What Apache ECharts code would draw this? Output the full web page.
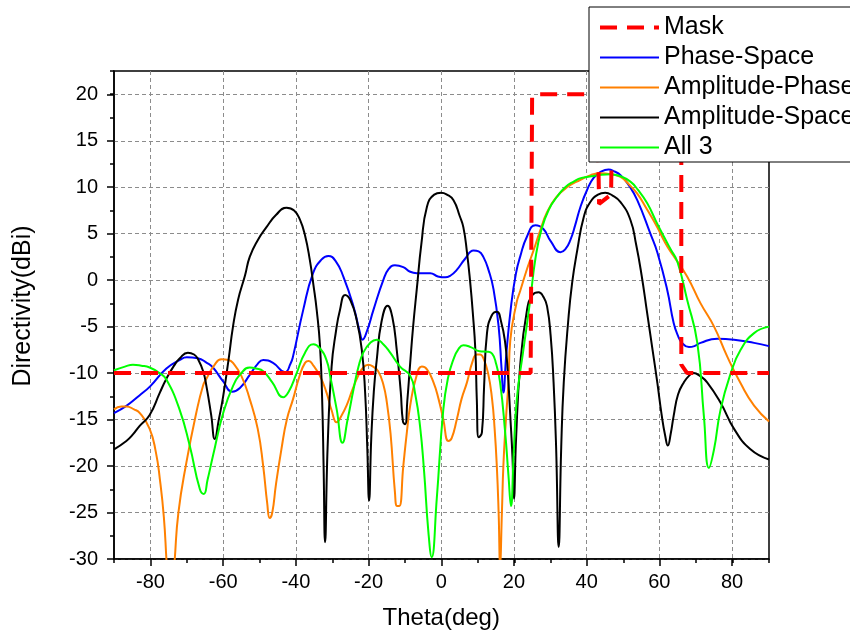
<!DOCTYPE html>
<html>
<head>
    <meta charset="utf-8" />
    <title>Directivity</title>
    <script src="https://cdn.jsdelivr.net/npm/echarts@6/dist/echarts.min.js"></script>
    <style>
        html, body { margin: 0; padding: 0; background: #fff; }
        #main { width: 850px; height: 639px; }
    </style>
</head>
<body>
    <div id="main"></div>
    <script type="text/javascript">
        // [theta(deg), directivity(dBi)]
        var maskData = [
            [-90, -10], [24.5, -10], [24.9, 19.8], [26.5, 20], [42.8, 20], [43.3, 8.2], [46.6, 9.2],
            [47, 20], [65.9, 20], [65.9, -9.1], [67.5, -10], [90, -10]
        ];
        var phaseSpace = [
            [-90, -14.3], [-86.5, -13.5], [-83, -12.4], [-80, -11.4], [-75.6, -9.5], [-72, -8.6], [-70, -8.3],
            [-67, -8.4], [-64.5, -8.9], [-62.8, -9.4], [-60, -10.9], [-57.5, -12.0], [-55.4, -11.6],
            [-52.7, -10.2], [-50.5, -9.0], [-49, -8.6], [-46.3, -8.9], [-43, -9.9], [-41.5, -9.0],
            [-40.8, -8.2], [-38, -3.2], [-35.3, 0.75], [-33, 2.2], [-31.1, 2.6], [-29, 2.0], [-27, 0.4],
            [-24.2, -2.8], [-22.5, -5.5], [-21.7, -6.4], [-20.5, -5.5], [-18.7, -3.2], [-16, 0],
            [-14.5, 1.2], [-12.8, 1.6], [-10.5, 1.4], [-8.6, 0.9], [-6.8, 0.75], [-3.1, 0.75], [-1, 0.4],
            [1, 0.3], [2.5, 0.5], [4.2, 1.1], [6.5, 2.3], [8.8, 3.2], [10.2, 3.1], [11.5, 2.5], [13, 1.0],
            [14.3, -1.0], [15.7, -5.0], [16.5, -9.5], [17, -12.1], [17.8, -8], [19.2, -2.5], [20.5, 0.8],
            [21.6, 2.5], [23.5, 4.7], [25.8, 5.9], [28, 5.5], [30, 4.2], [32.7, 3.0], [34, 3.3], [35.4, 4.3],
            [36.8, 6.0], [38.2, 7.9], [40, 9.7], [41.8, 11.0], [44, 11.7], [45.9, 11.9], [47.5, 11.7],
            [49.2, 11.3], [51.5, 10.2], [53.8, 8.6], [57.4, 5.0], [59.3, 3.0], [62, -1.0], [63.8, -4.6],
            [65, -6.0], [66.1, -6.75], [68, -7.2], [69.5, -7.1], [71.2, -6.75], [75.8, -6.3], [80.4, -6.4],
            [85.9, -6.75], [90, -7.1]
        ];
        var ampPhase = [
            [-90, -13.9], [-88, -13.6], [-86.6, -13.6], [-84.5, -13.9], [-82.9, -14.3], [-80.2, -16],
            [-78.5, -18.5], [-77.4, -21.4], [-76.3, -25.5], [-75.6, -30], [-75, -34], [-74, -34],
            [-73.3, -30], [-72.3, -25], [-70.1, -19.6], [-67.4, -14.3], [-65.5, -11.3], [-64.6, -10.6],
            [-62.5, -9.2], [-60.5, -8.5], [-58.5, -8.6], [-57.3, -8.9], [-55, -10.3], [-52.7, -12.8],
            [-50.5, -16], [-49, -20], [-47.9, -24], [-47.2, -25.6], [-46.5, -25], [-45.5, -22], [-44, -18.2],
            [-42.5, -15], [-40.8, -12.8], [-39, -10.3], [-37.5, -8.9], [-36.5, -8.7], [-35.2, -9.2],
            [-33.4, -10.3], [-31.6, -12.1], [-30.2, -14], [-28.8, -15.3], [-27.5, -14.6], [-26.1, -13.5],
            [-24.5, -11.8], [-22.9, -10.3], [-21.5, -9.4], [-20.1, -9.1], [-18.8, -9.3], [-17.4, -9.8],
            [-16, -11.2], [-15, -13.2], [-14, -16.5], [-12.8, -22.8], [-12.2, -24.3], [-11.6, -24.3],
            [-10.5, -20], [-9.5, -16.3], [-8.6, -13.5], [-7, -10.5], [-5.4, -9.3], [-4, -9.6], [-2.2, -11],
            [-0.8, -12.8], [0.5, -15], [1.9, -17.3], [2.8, -17], [4.2, -15], [5.5, -12.8], [7, -11],
            [8.5, -8.8], [9.7, -8.0], [10.6, -8.0], [11.5, -8.4], [12.8, -10], [13.9, -12.8], [14.6, -16],
            [15.2, -20], [15.7, -25], [16.1, -30.5], [16.6, -25], [17, -20], [17.7, -15], [18.4, -11],
            [18.9, -6.5], [20.7, -2.3], [21.6, -1.2], [23.5, 1.2], [25.3, 3.2], [27, 5.2], [29, 7.3],
            [31.5, 8.9], [34.5, 10.0], [38.2, 10.8], [41, 11.3], [43.7, 11.5], [46.5, 11.4], [49.2, 11.1],
            [51.5, 10.3], [53.8, 9.3], [56.5, 7.6], [59.3, 5.7], [61.5, 4.0], [63.6, 2.7], [67.5, 0.4],
            [71.2, -2.5], [74.9, -5], [78.5, -8.2], [82.2, -11.1], [85.9, -13.5], [90, -15.2]
        ];
        var ampSpace = [
            [-90, -18.2], [-86.6, -17.3], [-84.8, -16.6], [-83, -15.7], [-80.2, -14.5], [-77.4, -12.1],
            [-75.6, -10.6], [-73.5, -9.2], [-71.9, -8.4], [-69.7, -7.8], [-68, -8.0], [-66.9, -8.5],
            [-65.5, -9.8], [-64.6, -11.4], [-63.3, -14.5], [-62.3, -17.1], [-61.2, -15], [-60, -12.5],
            [-58.5, -8.5], [-57.3, -5], [-55.9, -2.1], [-54, 0.5], [-52.7, 2.5], [-50.5, 4.3], [-48.1, 5.7],
            [-45.5, 7.0], [-42.6, 7.8], [-40.5, 7.5], [-38.9, 6.5], [-37.5, 4.8], [-36.2, 2.2],
            [-35.2, -0.5], [-34.3, -3.2], [-33.4, -7], [-32.8, -12.8], [-32.4, -20], [-32, -28.2],
            [-31.3, -18], [-30.2, -9.3], [-29, -5.5], [-27.9, -3.2], [-26.5, -1.6], [-25, -2.2],
            [-23.3, -4.3], [-21.9, -7.5], [-21, -12], [-20.4, -18], [-19.9, -23.7], [-19.3, -17],
            [-18.6, -12], [-17.8, -8.6], [-16.5, -4.5], [-14.8, -2.75], [-13.5, -4], [-12.3, -7.5],
            [-11.2, -12], [-10.6, -15.2], [-10, -15.5], [-9.4, -13], [-8.6, -8.9], [-7.8, -5], [-6.8, -1],
            [-5.5, 4], [-4, 7.9], [-2, 9.2], [-0.1, 9.4], [1.5, 9.2], [3.3, 8.6], [5, 6.9], [6, 5.7],
            [7, 3], [7.9, -0.3], [8.6, -3.5], [9.3, -7.5], [9.7, -12.8], [10.2, -16.9], [11.1, -16.4],
            [11.7, -11.5], [12.5, -5.7], [13.8, -3.8], [15.2, -3.4], [16.4, -4.5], [17.5, -6.75],
            [18.2, -9.8], [18.9, -14.6], [19.5, -19], [19.9, -23.5], [20.5, -17], [21.6, -9.3],
            [23.5, -3.2], [25, -1.6], [26.7, -1.3], [28, -1.8], [29, -2.8], [30, -6], [30.8, -11],
            [31.5, -18], [32.2, -28.7], [32.9, -18], [33.6, -11], [34.8, -4.5], [35.9, -0.3], [37.3, 3.2],
            [39.1, 6.8], [40.9, 8.4], [43, 9.2], [45, 9.4], [47, 9.1], [49.2, 8.4], [51.9, 6.5],
            [53.5, 3.8], [55, 0.5], [56.5, -3.5], [58, -7.5], [59.3, -11], [60.5, -14.5], [61.5, -16.8],
            [62.2, -17.8], [63, -16.5], [63.8, -14.6], [65, -12.3], [66.6, -11], [68, -10.3], [69.3, -10.0],
            [71, -10.3], [73, -11], [76.7, -13.2], [80.4, -16], [84.9, -18.2], [90, -19.3]
        ];
        var all3 = [
            [-90, -9.7], [-87, -9.3], [-84.8, -9.1], [-82.5, -9.2], [-80.2, -9.4], [-77.5, -10],
            [-75.6, -10.7], [-72, -13.9], [-69.2, -17.8], [-66.4, -22.5], [-65.3, -23], [-64.3, -21.5],
            [-62.8, -18.9], [-60, -14.3], [-57.3, -11.4], [-55, -10], [-52.7, -9.4], [-51, -9.5],
            [-49, -9.8], [-46.5, -11], [-43.5, -12.6], [-42, -12], [-39.8, -10], [-37.5, -7.8],
            [-35.2, -6.9], [-33.5, -7.3], [-31.6, -8.6], [-30.5, -10.5], [-28.8, -13.9], [-27.2, -17.5],
            [-25.8, -15], [-24.2, -11.8], [-22.8, -9.3], [-21.5, -7.8], [-19.5, -6.7], [-17.8, -6.4],
            [-16, -6.9], [-14.1, -7.8], [-11.4, -9.3], [-8.6, -10.3], [-7.2, -12.3], [-5.9, -15.7],
            [-4.8, -20.5], [-3.6, -27.1], [-2.7, -29.8], [-1.3, -23.5], [0.5, -13.9], [1.8, -10.5],
            [3.3, -8.5], [4.7, -7.4], [6, -7], [8, -7.2], [10.5, -7.65], [12.5, -7.7], [13.9, -7.9],
            [15, -9], [16.1, -11], [17.5, -16.4], [18.4, -21], [19.1, -24.3], [19.8, -19], [20.7, -12.8],
            [22.5, -7.5], [24.4, -2.1], [25.8, 2.3], [27.5, 5.5], [29.5, 7.6], [31.8, 9.0], [34, 10.0],
            [36.3, 10.6], [38.5, 11.0], [41.8, 11.2], [44, 11.35], [46.4, 11.4], [49, 11.2], [51.9, 10.6],
            [54, 9.7], [56.5, 8.3], [59, 6.3], [61.1, 4.7], [63, 3.3], [64.8, 2.0], [67.5, -2.1],
            [70.3, -6.75], [72.1, -14.6], [73.5, -20.2], [74.9, -18.2], [76.7, -13.9], [79.5, -10],
            [82.2, -7.5], [85.9, -5.7], [90, -5.0]
        ];
        var seriesNames = ['Mask', 'Phase-Space', 'Amplitude-Phase', 'Amplitude-Space', 'All 3'];
        var seriesColors = ['#ff0000', '#0000ff', '#ff8000', '#000000', '#00ff00'];
        var xMajorTicks = [-80, 80, 20];
        var yMajorTicks = [-30, 20, 5];

        var font = '"Liberation Sans", Arial, Helvetica, sans-serif';
        var gridDash = { color: '#8c8c8c', width: 1, type: [4, 3] };
        var maskDash = [17, 10];

        function line(name, data, idx, extra) {
            var s = {
                name: name, type: 'line', xAxisIndex: 0, yAxisIndex: 0,
                data: data, symbol: 'none', showSymbol: false, smooth: 0.5,
                lineStyle: { color: seriesColors[idx], width: 2 },
                itemStyle: { color: seriesColors[idx] },
                z: 2
            };
            for (var k in extra) s[k] = extra[k];
            return s;
        }

        var legendData = seriesNames.map(function (n, i) {
            if (i === 0) return { name: n, lineStyle: { width: 4, type: maskDash } };
            return { name: n };
        });

        var myChart = echarts.init(document.getElementById('main'));
        var option = {
            animation: false,
            backgroundColor: '#fff',
            textStyle: { fontFamily: font, color: '#000' },
            grid: [
                { left: 114, right: 81, top: 71, bottom: 80, show: true, borderColor: '#000', borderWidth: 1.5, backgroundColor: 'transparent' },
                { left: 150.5, right: 118, top: 71, bottom: 80 },
                { left: 114, right: 81, top: 94.3, bottom: 80 }
            ],
            xAxis: [
                {
                    gridIndex: 0, type: 'value', min: -90, max: 90, interval: 10,
                    axisLine: { onZero: false, lineStyle: { color: '#000', width: 1.5 } },
                    axisTick: { length: 4, lineStyle: { color: '#000', width: 1.5 } },
                    axisLabel: { show: false }, splitLine: { show: false }
                },
                {
                    gridIndex: 1, type: 'value', min: xMajorTicks[0], max: xMajorTicks[1], interval: xMajorTicks[2],
                    axisLine: { show: false, onZero: false },
                    axisTick: { length: 7, lineStyle: { color: '#000', width: 1.5 } },
                    axisLabel: { fontSize: 20, color: '#000', margin: 13, fontFamily: font },
                    splitLine: { show: true, lineStyle: gridDash },
                    name: 'Theta(deg)', nameLocation: 'middle', nameGap: 47,
                    nameTextStyle: { fontSize: 24, color: '#000', fontFamily: font }
                },
                { gridIndex: 2, type: 'value', min: -90, max: 90, show: false }
            ],
            yAxis: [
                {
                    gridIndex: 0, type: 'value', min: -30, max: 22.5, interval: 2.5,
                    axisLine: { show: true, onZero: false, lineStyle: { color: '#000', width: 1.5 } },
                    axisTick: { show: true, length: 4, lineStyle: { color: '#000', width: 1.5 } },
                    axisLabel: { show: false }, splitLine: { show: false },
                    name: 'Directivity(dBi)', nameLocation: 'middle', nameGap: 78,
                    nameTextStyle: { fontSize: 25, color: '#000', fontFamily: font, padding: [0, 0, 0, 18] }
                },
                { gridIndex: 1, type: 'value', min: 0, max: 1, show: false },
                {
                    gridIndex: 2, type: 'value', min: yMajorTicks[0], max: yMajorTicks[1], interval: yMajorTicks[2],
                    axisLine: { show: false, onZero: false },
                    axisTick: { show: true, length: 7, lineStyle: { color: '#000', width: 1.5 } },
                    axisLabel: { fontSize: 20, color: '#000', margin: 16, fontFamily: font },
                    splitLine: { show: true, lineStyle: gridDash }
                }
            ],
            legend: {
                data: legendData,
                orient: 'vertical', left: 589, top: 7,
                padding: [8, 20, 2, 9], itemGap: 5, itemWidth: 59, itemHeight: 14,
                backgroundColor: '#fff', borderColor: '#000', borderWidth: 1, borderRadius: 0,
                itemStyle: { opacity: 0 },
                textStyle: { fontSize: 25, color: '#000', fontFamily: font },
                z: 10
            },
            series: [
                line(seriesNames[1], phaseSpace, 1),
                line(seriesNames[2], ampPhase, 2),
                line(seriesNames[3], ampSpace, 3),
                line(seriesNames[4], all3, 4),
                line(seriesNames[0], maskData, 0, {
                    smooth: false,
                    lineStyle: { color: seriesColors[0], width: 4, type: maskDash },
                    z: 3
                })
            ]
        };
        myChart.setOption(option);
    </script>
</body>
</html>
